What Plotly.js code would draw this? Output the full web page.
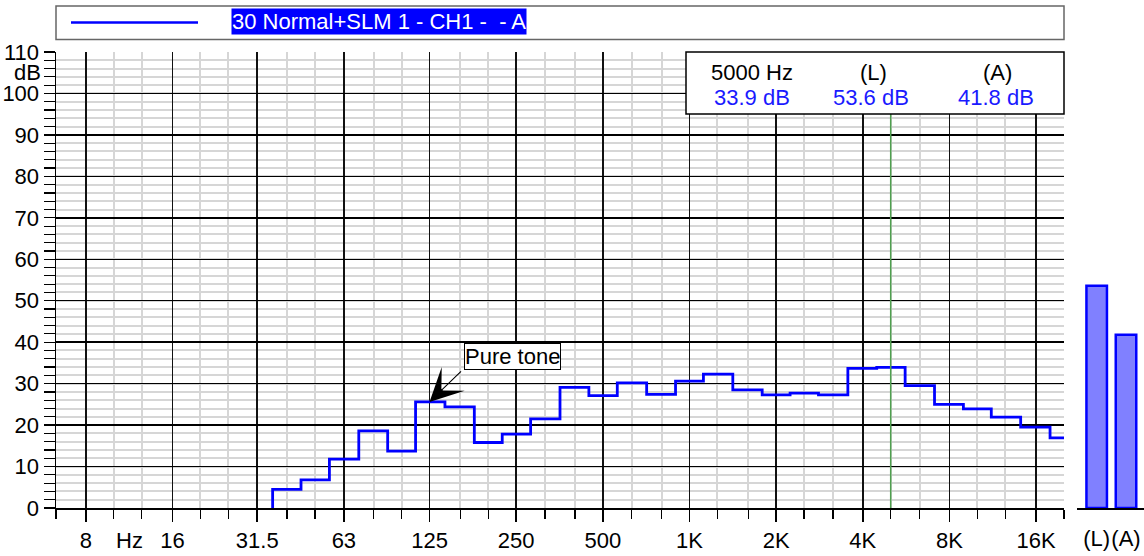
<!DOCTYPE html>
<html>
<head>
<meta charset="utf-8">
<script src="https://cdn.plot.ly/plotly-3.0.1.min.js"></script>
<style>html,body{margin:0;padding:0;background:#fff;}#chart{width:1144px;height:556px;}</style>
</head>
<body>
<div id="chart"></div>
<script>
// ---- data ----
var bandCenters = [40,50,63,80,100,125,160,200,250,315,400,500,630,800,1000,1250,1600,2000,2500,3150,4000,5000,6300,8000,10000,12500,16000,20000];
var bandLevels  = [4.5,6.8,11.8,18.6,13.7,25.6,24.4,15.8,17.8,21.5,29.1,27.1,30.2,27.4,30.6,32.3,28.5,27.3,27.7,27.3,33.7,33.9,29.5,25.0,23.9,21.9,19.5,16.9];
var octaveTicks = [8,16,31.5,63,125,250,500,1000,2000,4000,8000,16000];
var octaveLabels = ['8','16','31.5','63','125','250','500','1K','2K','4K','8K','16K'];
var thirdTicks = [6.3,10,12.5,20,25,40,50,80,100,160,200,315,400,630,800,1250,1600,2500,3150,5000,6300,10000,12500,20000];
var yTicks = [0,10,20,30,40,50,60,70,80,90,100,110];
var summaryLabels = ['(L)','(A)'];
var summaryValues = [53.6,41.8];
var cursorFreq = 5000;
var cursorLevel = 33.9;
var seriesName = '30 Normal+SLM 1 - CH1 -\u00a0\u00a0- A';

// ---- step path from band edges ----
var edges = [bandCenters[0]/Math.pow(2,1/6)];
for (var i=1;i<bandCenters.length;i++) edges.push(Math.sqrt(bandCenters[i-1]*bandCenters[i]));
edges.push(bandCenters[bandCenters.length-1]*Math.pow(2,1/6));
var sx=[edges[0]], sy=[0];
for (var i=0;i<bandCenters.length;i++){ sx.push(edges[i]); sy.push(bandLevels[i]); sx.push(edges[i+1]); sy.push(bandLevels[i]); }

// pixel -> paper helpers (layout only)
var L=56, T=52, W=1088, H=456;
function px(x){return (x-L)/W;}
function py(y){return (T+H-y)/H;}

var FONT='Liberation Sans, Arial, sans-serif';
var FS=22;
var BLUE='#0000ff';

var traces = [
  {x:sx, y:sy, type:'scatter', mode:'lines', line:{color:BLUE, width:2.8, shape:'linear'}, xaxis:'x', yaxis:'y', hoverinfo:'skip'},
  {x:[0,1], y:summaryValues, type:'bar', width:0.7, marker:{color:'#8080ff', line:{color:'#0000ff', width:2.5}}, xaxis:'x2', yaxis:'y2', hoverinfo:'skip'}
];

function ann(x,y,text,color,xa){
  return {xref:'paper', yref:'paper', x:px(x), y:py(y), text:text, showarrow:false, xanchor:xa||'center', yanchor:'middle', font:{family:FONT, size:FS, color:color||'#000'}};
}

var layout = {
  width:1144, height:556,
  margin:{l:L, r:0, t:T, b:556-T-H},
  paper_bgcolor:'#fff', plot_bgcolor:'#fff',
  showlegend:false,
  font:{family:FONT, size:FS, color:'#000'},
  xaxis:{
    type:'log', domain:[0, px(1064)], range:[Math.log10(6.3), Math.log10(20000)],
    tickmode:'array', tickvals:octaveTicks, ticktext:octaveLabels, tickangle:0,
    ticks:'outside', ticklen:12, tickwidth:1.5, tickcolor:'#000',
    tickfont:{family:FONT, size:FS, color:'#000'}, ticklabelstandoff:0,
    showgrid:true, gridcolor:'#111', gridwidth:1.6,
    minor:{tickmode:'array', tickvals:thirdTicks, ticks:'outside', ticklen:9, tickwidth:1.2, tickcolor:'#000', showgrid:true, gridcolor:'#d6d6d6', gridwidth:2},
    showline:true, linecolor:'#000', linewidth:1.5, zeroline:false, anchor:'y'
  },
  xaxis2:{
    domain:[px(1077),1], range:[-0.672,1.614], anchor:'y2',
    tickmode:'array', tickvals:[0,1], ticktext:summaryLabels, ticks:'', tickangle:0,
    tickfont:{family:FONT, size:FS, color:'#000'}, ticklabelstandoff:10,
    showgrid:false, zeroline:false, showline:true, linecolor:'#000', linewidth:1.5
  },
  yaxis:{
    range:[0,110], tickmode:'array', tickvals:yTicks,
    ticks:'outside', ticklen:11, tickwidth:1.2, tickcolor:'#000',
    tickfont:{family:FONT, size:FS, color:'#000'},
    showgrid:true, gridcolor:'#000', gridwidth:1.5,
    minor:{dtick:2, ticks:'outside', ticklen:11, tickwidth:1.2, tickcolor:'#000', showgrid:true, gridcolor:'#d6d6d6', gridwidth:2},
    showline:true, linecolor:'#000', linewidth:1.5, zeroline:false, anchor:'x'
  },
  yaxis2:{
    range:[0,110], anchor:'x2', showgrid:false, zeroline:false, showline:false, ticks:'', showticklabels:false
  },
  shapes:[
    {type:'line', xref:'x', yref:'paper', x0:cursorFreq, x1:cursorFreq, y0:0, y1:1, line:{color:'#4f9f4f', width:1.5}},
    {type:'rect', xref:'paper', yref:'paper', x0:px(686), x1:px(1064), y0:py(114), y1:py(52), fillcolor:'#fff', line:{color:'#000', width:1.5}},
    {type:'rect', xref:'paper', yref:'paper', x0:px(56), x1:px(1064), y0:py(39.5), y1:py(6), fillcolor:'#fff', line:{color:'#666', width:1.5}},
    {type:'line', xref:'paper', yref:'paper', x0:px(71), x1:px(198), y0:py(22.5), y1:py(22.5), line:{color:BLUE, width:2.5}}
  ],
  annotations:[
    Object.assign(ann(378.5,22,seriesName,'#fff'), {bgcolor:BLUE, borderpad:0}),
    ann(752,72.5,cursorFreq+' Hz'),
    ann(873,72.5,summaryLabels[0]),
    ann(997,72.5,summaryLabels[1]),
    ann(752,97.5,cursorLevel.toFixed(1)+' dB','#1a1aff'),
    ann(871,97.5,summaryValues[0].toFixed(1)+' dB','#1a1aff'),
    ann(996,97.5,summaryValues[1].toFixed(1)+' dB','#1a1aff'),
    ann(43,73,'dB','#000','right'),
    ann(129,540,'Hz'),
    Object.assign(ann(512.5,356.3,'Pure tone'), {bgcolor:'#fff', bordercolor:'#000', borderwidth:1, borderpad:0}),
    {xref:'x', yref:'y', x:Math.log10(125), y:bandLevels[5], text:'', showarrow:true, ax:33, ay:-32, arrowhead:3, arrowsize:5, arrowwidth:1.1, arrowcolor:'#000'}
  ]
};

Plotly.newPlot('chart', traces, layout, {staticPlot:true, displayModeBar:false});
</script>
</body>
</html>
